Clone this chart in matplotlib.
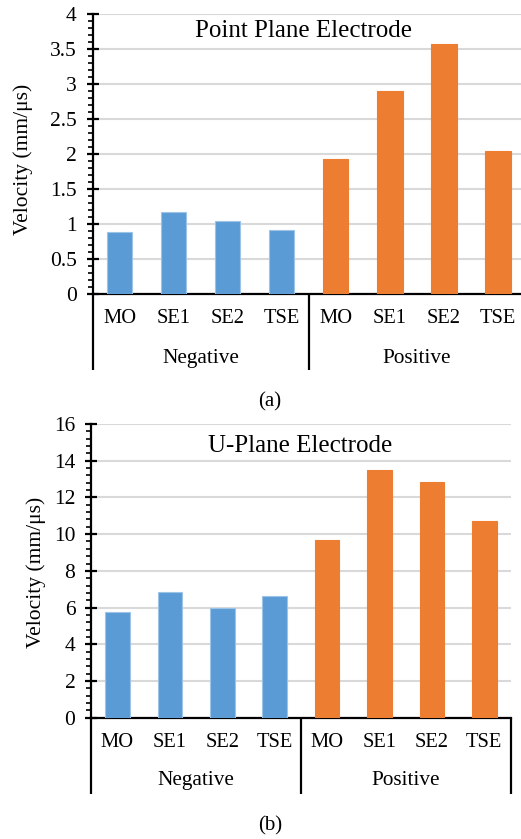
import matplotlib
matplotlib.use("Agg")
import matplotlib.pyplot as plt
import matplotlib.transforms as mtransforms
from matplotlib.ticker import MultipleLocator
import numpy as np

plt.rcParams['font.family'] = ['Liberation Serif', 'DejaVu Serif']

categories = ["MO", "SE1", "SE2", "TSE", "MO", "SE1", "SE2", "TSE"]
groups = ["Negative", "Positive"]
point_plane = [0.89, 1.17, 1.04, 0.91, 1.93, 2.90, 3.57, 2.05]
u_plane = [5.76, 6.83, 5.99, 6.65, 9.68, 13.49, 12.84, 10.72]
bar_colors = ["#5B9BD5"] * 4 + ["#ED7D31"] * 4
edge_colors = ["#9DC3E6"] * 4 + ["#ED7D31"] * 4

W, H = 521, 839
fig = plt.figure(figsize=(W / 100, H / 100), dpi=100)


def make_panel(rect, values, ymax, major, minor, title, title_xy, ylab_xy,
               lab_y, grp_y, line_y, caption, cap_y):
    ax = fig.add_axes(rect)
    x = np.arange(len(values))
    ax.bar(x, values, width=0.47, color=bar_colors, edgecolor=edge_colors,
           linewidth=0.8, zorder=3)
    ax.set_xlim(-0.5, len(values) - 0.5)
    ax.set_ylim(0, ymax)
    ax.yaxis.set_major_locator(MultipleLocator(major))
    ax.yaxis.set_minor_locator(MultipleLocator(minor))
    ax.yaxis.set_major_formatter(matplotlib.ticker.FuncFormatter(
        lambda v, p: ('%g' % v)))
    ax.grid(axis='y', which='major', color='#d9d9d9', linewidth=1.5, zorder=0)
    for s in ['top', 'right']:
        ax.spines[s].set_visible(False)
    ax.spines['left'].set_linewidth(1.6)
    ax.spines['bottom'].set_linewidth(1.6)
    ax.tick_params(axis='y', which='major', direction='inout', length=9,
                   width=1.6, labelsize=15.5, pad=7)
    ax.tick_params(axis='y', which='minor', direction='out', length=3.5,
                   width=1.2)
    ax.tick_params(axis='x', which='both', length=0, labelbottom=False)
    ax.set_ylabel("Velocity (mm/\u03bcs)", fontsize=15.5)
    ax.yaxis.set_label_coords(*ylab_xy)
    ax.text(title_xy[0], title_xy[1], title, transform=ax.transAxes,
            ha='center', va='center', fontsize=18)
    trans = mtransforms.blended_transform_factory(ax.transData, ax.transAxes)
    for i, c in enumerate(categories):
        ax.text(i, lab_y, c, transform=trans, ha='center', va='center',
                fontsize=14.8)
    for g, name in enumerate(groups):
        ax.text(g * 4 + 1.5, grp_y, name, transform=trans, ha='center',
                va='center', fontsize=15.3)
    for xv in [-0.5, 3.5, 7.5]:
        ax.plot([xv, xv], [0, line_y], transform=trans, color='black',
                linewidth=1.6, clip_on=False, solid_capstyle='butt')
    fig.text(270 / W, 1 - cap_y / H, caption, ha='center', va='center',
             fontsize=15)
    return ax


# top panel: left 92.5, right 525, top 14, bottom 294
make_panel([92.5 / W, 1 - 294 / H, 432.5 / W, 280 / H], point_plane, 4, 0.5,
           0.1, "Point Plane Electrode", (0.489, 0.94), (-0.1376, 0.482),
           -0.089, -0.229, -0.271, "(a)", 402)
# bottom panel: left 91.3, right 510.5, top 424, bottom 717.7
make_panel([91.3 / W, 1 - 717.7 / H, 419.2 / W, 293.7 / H], u_plane, 16, 2,
           0.4, "U-Plane Electrode", (0.498, 0.925), (-0.108, 0.494),
           -0.086, -0.215, -0.26, "(b)", 826)

fig.savefig("out.png", dpi=100)
